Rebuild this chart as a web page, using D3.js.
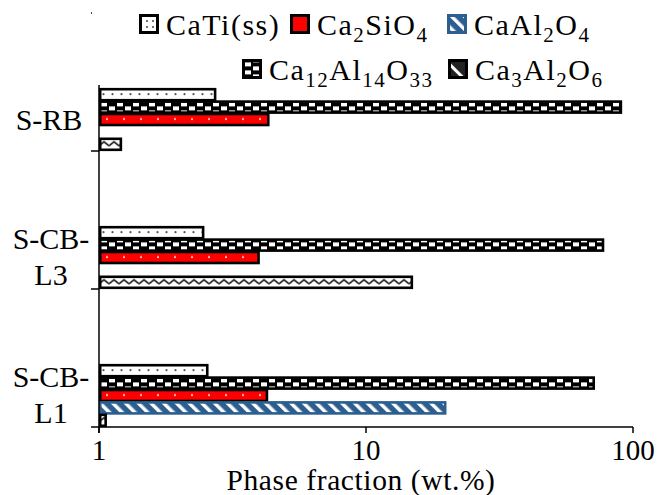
<!DOCTYPE html>
<html><head><meta charset="utf-8">
<script src="https://cdn.jsdelivr.net/npm/d3@7"></script>
<style>
body{margin:0;background:#fff}
svg{display:block}
</style>
</head><body><svg id="c" width="658" height="495" font-family="'Liberation Serif', 'Times New Roman', Times, 'DejaVu Serif', serif"></svg>
<script>
// ---- data ----
const categories = ["S-RB", "S-CB-L3", "S-CB-L1"];
const categoryLines = [["S-RB"], ["S-CB-", "L3"], ["S-CB-", "L1"]];
const seriesNames = ["CaTi(ss)", "Ca12Al14O33", "Ca2SiO4", "CaAl2O4", "Ca3Al2O6"];
const legendOrder = ["CaTi(ss)", "Ca2SiO4", "CaAl2O4", "Ca12Al14O33", "Ca3Al2O6"];
const CaTi_ss = [2.75, 2.48, 2.57];
const Ca12Al14O33 = [91, 78, 72];
const Ca2SiO4 = [4.35, 4.0, 4.3];
const CaAl2O4 = [null, null, 20];
const Ca3Al2O6 = [1.22, 15.0, 1.07];
const xTicks = [1, 10, 100];
const xTitle = "Phase fraction (wt.%)";

const seriesValues = {
  "CaTi(ss)": CaTi_ss, "Ca12Al14O33": Ca12Al14O33, "Ca2SiO4": Ca2SiO4,
  "CaAl2O4": CaAl2O4, "Ca3Al2O6": Ca3Al2O6
};

// ---- layout ----
const W = 658, H = 495;
const plot = {left: 99, right: 633, top: 13, bottom: 427};
const svg = d3.select("#c");

const x = d3.scaleLog().domain([1, 100]).range([plot.left, plot.right]);
const y = d3.scaleBand().domain(categories).range([plot.top, plot.bottom]);
const step = y.bandwidth();
const inner = d3.scaleBand().domain(seriesNames).range([step - 63, step - 1]);

// ---- patterns ----
const defs = svg.append("defs");
const blue = "#2c5f8f";
function seriesTop(s) { return y(categories[0]) + inner(s); }
const bh = inner.bandwidth();

{
  const p = defs.append("pattern").attr("id", "pDots").attr("patternUnits", "userSpaceOnUse")
    .attr("width", 9).attr("height", step).attr("x", plot.left).attr("y", seriesTop("CaTi(ss)"));
  p.append("rect").attr("width", 9).attr("height", step).attr("fill", "#fff");
  p.append("circle").attr("cx", 4.5).attr("cy", bh / 2).attr("r", 1.1).attr("fill", "#555");
}
{
  const p = defs.append("pattern").attr("id", "pRed").attr("patternUnits", "userSpaceOnUse")
    .attr("width", 17).attr("height", step).attr("x", plot.left).attr("y", seriesTop("Ca2SiO4"));
  p.append("rect").attr("width", 17).attr("height", step).attr("fill", "#ff0000");
  p.append("circle").attr("cx", 8).attr("cy", bh / 2).attr("r", 1).attr("fill", "#fff");
}
{
  const p = defs.append("pattern").attr("id", "pChk").attr("patternUnits", "userSpaceOnUse")
    .attr("width", 16).attr("height", 8).attr("x", plot.left).attr("y", seriesTop("Ca12Al14O33") + 2);
  p.append("rect").attr("width", 16).attr("height", 8).attr("fill", "#000");
  p.append("rect").attr("x", 2).attr("y", 0).attr("width", 6).attr("height", 4).attr("fill", "#fff");
  p.append("rect").attr("x", 10).attr("y", 4).attr("width", 6).attr("height", 4).attr("fill", "#fff");
}
{
  const p = defs.append("pattern").attr("id", "pBlue").attr("patternUnits", "userSpaceOnUse")
    .attr("width", 9).attr("height", 9).attr("patternTransform", "rotate(-45)");
  p.append("rect").attr("width", 9).attr("height", 9).attr("fill", blue);
  p.append("rect").attr("x", 0).attr("width", 3.5).attr("height", 9).attr("fill", "#fff");
}
{
  const p = defs.append("pattern").attr("id", "pZig").attr("patternUnits", "userSpaceOnUse")
    .attr("width", 10).attr("height", step).attr("x", plot.left).attr("y", seriesTop("Ca3Al2O6"));
  p.append("rect").attr("width", 10).attr("height", step).attr("fill", "#fff");
  p.append("path").attr("d", `M0,${bh/2+2} L5,${bh/2-2} L10,${bh/2+2}`)
    .attr("fill", "none").attr("stroke", "#000").attr("stroke-width", 1.6);
}
{
  const p = defs.append("pattern").attr("id", "lgDots").attr("patternUnits", "userSpaceOnUse")
    .attr("width", 6).attr("height", 6);
  p.append("rect").attr("width", 6).attr("height", 6).attr("fill", "#fff");
  p.append("circle").attr("cx", 3).attr("cy", 3).attr("r", 1).attr("fill", "#444");
}
{
  const p = defs.append("pattern").attr("id", "lgZig").attr("patternUnits", "userSpaceOnUse")
    .attr("width", 14).attr("height", 14).attr("patternTransform", "rotate(-45)");
  p.append("rect").attr("width", 14).attr("height", 14).attr("fill", "#222");
  p.append("rect").attr("x", 5).attr("width", 3).attr("height", 14).attr("fill", "#fff");
}
const fills = {"CaTi(ss)": "url(#pDots)", "Ca12Al14O33": "url(#pChk)", "Ca2SiO4": "url(#pRed)",
  "CaAl2O4": "url(#pBlue)", "Ca3Al2O6": "url(#pZig)"};
const lgFills = {"CaTi(ss)": "url(#lgDots)", "Ca12Al14O33": "url(#pChk)", "Ca2SiO4": "#ff0000",
  "CaAl2O4": "url(#pBlue)", "Ca3Al2O6": "url(#lgZig)"};
const strokes = {"CaTi(ss)": "#000", "Ca12Al14O33": "#000", "Ca2SiO4": "#000",
  "CaAl2O4": blue, "Ca3Al2O6": "#000"};

// ---- bars ----
const barData = [];
categories.forEach((c, i) => seriesNames.forEach(s => {
  const v = seriesValues[s][i];
  if (v != null) barData.push({c, s, v});
}));
svg.append("g").selectAll("rect").data(barData).join("rect")
  .attr("x", x(1) + 1.2)
  .attr("y", d => y(d.c) + inner(d.s) + 1.2)
  .attr("width", d => x(d.v) - x(1) - 2.4)
  .attr("height", bh - 1.4)
  .attr("fill", d => fills[d.s])
  .attr("stroke", d => strokes[d.s])
  .attr("stroke-width", 2.6);

// ---- axes ----
const ax = svg.append("g").attr("stroke", "#000").attr("stroke-width", 1.5).attr("fill", "none");
ax.append("line").attr("x1", plot.left - 8).attr("x2", plot.right).attr("y1", plot.bottom).attr("y2", plot.bottom);
ax.append("line").attr("x1", plot.left).attr("x2", plot.left).attr("y1", plot.top).attr("y2", plot.bottom + 6);
ax.selectAll(".yt").data(categories).join("line")
  .attr("x1", plot.left - 8).attr("x2", plot.left)
  .attr("y1", d => y(d)).attr("y2", d => y(d));
ax.selectAll(".xt").data(xTicks).join("line")
  .attr("x1", d => x(d)).attr("x2", d => x(d))
  .attr("y1", plot.bottom).attr("y2", plot.bottom + 6);

svg.append("g").selectAll("text").data(xTicks).join("text")
  .attr("x", d => x(d)).attr("y", 460)
  .attr("text-anchor", "middle").attr("font-size", 29)
  .text(d => d);
svg.append("text").attr("x", 361).attr("y", 490).attr("text-anchor", "middle")
  .attr("font-size", 29.5).attr("letter-spacing", 0.6).text(xTitle);

categories.forEach((c, i) => {
  const lines = categoryLines[i];
  const cy = y(c) + inner(seriesNames[0]) + (inner(seriesNames[4]) + bh - inner(seriesNames[0])) / 2;
  const t = svg.append("text").attr("text-anchor", "middle").attr("font-size", 30);
  if (lines.length === 1) {
    t.append("tspan").attr("x", 49).attr("y", cy + 11).text(lines[0]);
  } else {
    t.append("tspan").attr("x", 51).attr("y", cy - 8).text(lines[0]);
    t.append("tspan").attr("x", 51).attr("y", cy + 28).text(lines[1]);
  }
});

// ---- legend ----
svg.append("rect").attr("x", 92).attr("y", 0).attr("width", W - 92).attr("height", 85).attr("fill", "#fff");
const legendPos = [[139, 24], [290, 24], [447, 24], [242, 69], [448, 69]];
function addChem(t, str) {
  const parts = str.match(/(\d+|[^\d]+)/g);
  let shifted = false;
  parts.forEach(p => {
    if (/^\d+$/.test(p)) {
      t.append("tspan").attr("font-size", 21).attr("dy", 7).text(p);
      shifted = true;
    } else {
      t.append("tspan").attr("dy", shifted ? -7 : 0).text(p);
      shifted = false;
    }
  });
}
const lg = svg.append("g");
legendOrder.forEach((s, i) => {
  const [lx, ly] = legendPos[i];
  lg.append("rect").attr("x", lx + 1.5).attr("y", ly - 8.5).attr("width", 17).attr("height", 17)
    .attr("fill", lgFills[s]).attr("stroke", strokes[s]).attr("stroke-width", 3);
  const t = lg.append("text").attr("x", lx + 27).attr("y", ly + 11).attr("font-size", 30)
    .attr("letter-spacing", 1.5);
  addChem(t, s);
});
</script>
</body></html>
